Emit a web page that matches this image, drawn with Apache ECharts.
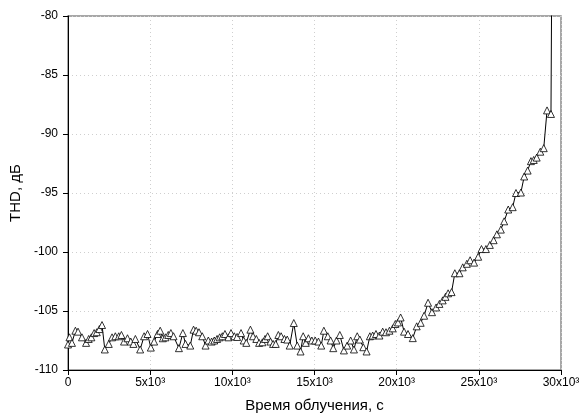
<!DOCTYPE html>
<html>
<head>
<meta charset="utf-8">
<script src="https://cdn.jsdelivr.net/npm/echarts@6/dist/echarts.min.js"></script>
<style>
  html, body { margin: 0; padding: 0; background: #fff; }
  #chart { width: 583px; height: 418px; }
</style>
</head>
<body>
<div id="chart"></div>
<script>
// irradiation time, s
const times = [
  0, 90, 240, 450, 610, 850, 1100, 1260, 1420, 1590, 1750, 1910, 2070, 2240, 2480, 2680, 2880, 3090, 3250, 3410,
  3620, 3820, 3980, 4100, 4390, 4630, 4840, 5040,
  5240, 5450, 5610, 5770, 5930, 6100, 6260, 6420, 6750, 6990, 7150, 7440, 7640, 7800, 7970, 8170, 8370, 8540,
  8740, 8900, 9070, 9230, 9390, 9550, 9760, 9920, 10120, 10290,
  10530, 10690, 10850, 11100, 11260, 11460, 11630, 11830, 11990, 12150, 12320, 12480, 12640, 12800, 12970, 13170,
  13340, 13490, 13740, 13950, 14150, 14310, 14470, 14630, 14840, 15040, 15240, 15410, 15570,
  15810, 15980, 16140, 16340, 16540, 16790, 16990, 17200, 17400, 17600, 17760, 17970, 18170, 18370, 18540, 18740,
  18950, 19150, 19350, 19560, 19760, 19920, 20080, 20240, 20450, 20690,
  20980, 21220, 21460, 21670, 21910, 22150, 22400, 22600, 22800, 22970, 23130, 23340, 23540, 23820, 24020, 24270,
  24470, 24710, 24960, 25160, 25430, 25670, 25900, 26100, 26340, 26540, 26790, 27060, 27260, 27560, 27760, 27970,
  28170, 28340, 28520, 28740, 28950, 29150, 29390, 29540
];
// THD, dB
const thd = [
  -107.84, -107.23, -107.7, -106.67, -106.75, -107.23, -107.7, -107.37, -107.23, -106.87, -106.8, -106.53, -106.19, -108.26, -107.79, -107.23, -107.14, -107.14, -107.03, -107.59,
  -107.31, -107.59, -107.79, -107.37, -108.26, -107.14, -106.95, -108.1,
  -107.59, -106.95, -106.67, -107.31, -107.23, -107.03, -106.87, -107.14, -108.15, -106.87, -107.79, -107.93, -106.58, -106.67, -106.8, -107.14, -107.93, -107.5,
  -107.59, -107.5, -107.37, -107.23, -107.14, -106.95, -107.23, -106.87, -107.14, -107.2,
  -106.87, -107.5, -107.7, -106.58, -107.14, -107.37, -107.7, -107.65, -107.37, -107.14, -107.59, -107.79, -107.79, -107.03, -107.14, -107.37,
  -107.42, -107.93, -106.02, -107.93, -108.43, -107.14, -107.7, -107.31, -107.5, -107.5, -107.59, -107.93, -106.67,
  -107.14, -107.5, -108.15, -107.5, -107.03, -108.34, -107.93, -107.5, -108.26, -107.14, -107.42, -108.07, -108.43, -107.14, -107.08, -106.95,
  -107.08, -106.75, -106.8, -106.67, -106.47, -106.1, -105.97, -105.55, -106.75, -106.95,
  -107.3, -106.3, -106.0, -105.4, -104.3, -105.1, -104.7, -104.4, -104.1, -103.8, -103.5, -103.4, -101.8, -101.8, -101.3, -101.0,
  -100.7, -100.9, -100.4, -99.75, -99.75, -99.4, -99.0, -98.5, -98.1, -97.4, -96.4, -96.2, -95.0, -94.96, -93.6, -93.1,
  -92.3, -92.2, -92.0, -91.5, -91.2, -88.0, -88.3, -50
];
const xTicks = [0, 5000, 10000, 15000, 20000, 25000, 30000];
const yTicks = [-110, -105, -100, -95, -90, -85, -80];

const chart = echarts.init(document.getElementById('chart'));
const font = 'Liberation Sans, Arial, sans-serif';

chart.setOption({
  animation: false,
  grid: { left: 68, right: 22, top: 16, bottom: 45, show: true, borderColor: '#8a8a8a', borderWidth: 1.5 },
  xAxis: {
    type: 'value',
    min: xTicks[0], max: xTicks[xTicks.length - 1], interval: 5000,
    name: 'Время облучения, с', nameLocation: 'middle', nameGap: 28,
    nameTextStyle: { fontFamily: font, fontSize: 15, color: '#000' },
    axisLine: { onZero: false, lineStyle: { color: '#000', width: 1 } },
    axisTick: { show: true, length: 5, lineStyle: { color: '#000' } },
    axisLabel: {
      fontFamily: font, fontSize: 12, color: '#000', margin: 7,
      formatter: v => v === 0 ? '0' : (v / 1000) + 'x10³'
    },
    splitLine: { show: true, lineStyle: { color: '#cfcfcf', type: [1, 3] } }
  },
  yAxis: {
    type: 'value',
    min: yTicks[0], max: yTicks[yTicks.length - 1], interval: 5,
    name: 'THD, дБ', nameLocation: 'middle', nameGap: 38,
    nameTextStyle: { fontFamily: font, fontSize: 15, color: '#000' },
    axisLine: { show: true, onZero: false, lineStyle: { color: '#000', width: 1 } },
    axisTick: { show: true, length: 5, lineStyle: { color: '#000' } },
    axisLabel: { fontFamily: font, fontSize: 12, color: '#000', margin: 10 },
    splitLine: { show: true, lineStyle: { color: '#cfcfcf', type: [1, 3] } }
  },
  series: [{
    type: 'line',
    data: times.map((t, i) => [t, thd[i]]),
    clip: true,
    symbol: 'triangle',
    symbolSize: 7,
    showAllSymbol: true,
    lineStyle: { color: '#000', width: 1 },
    itemStyle: { color: '#fff', borderColor: '#000', borderWidth: 0.8 }
  }]
});
</script>
</body>
</html>
